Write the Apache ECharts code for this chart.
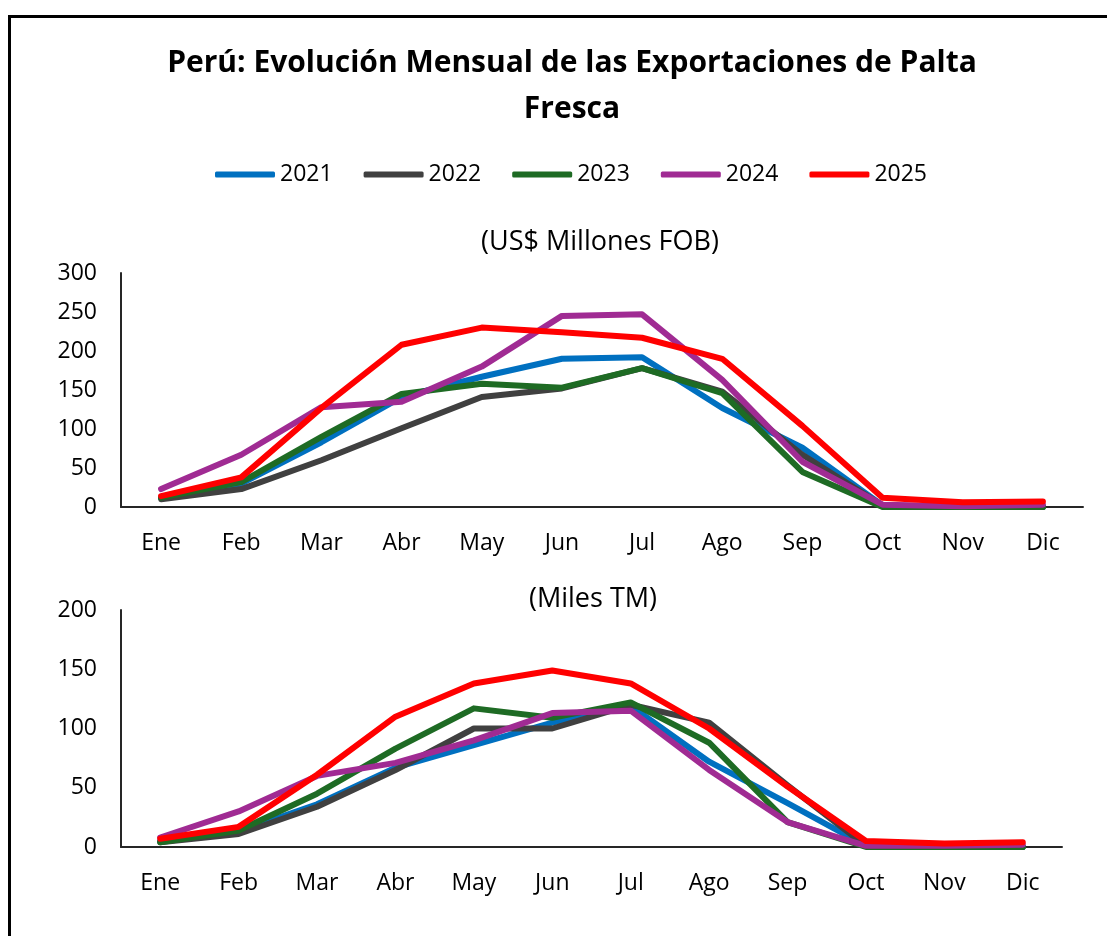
<!DOCTYPE html>
<html>
<head>
<meta charset="utf-8">
<script src="https://cdn.jsdelivr.net/npm/echarts@6/dist/echarts.min.js"></script>
<style>
  html, body { margin: 0; padding: 0; background: #fff; }
  #box { width: 1107px; height: 936px; }
</style>
</head>
<body>
<div id="box"></div>
<script>
var meses = ['Ene', 'Feb', 'Mar', 'Abr', 'May', 'Jun', 'Jul', 'Ago', 'Sep', 'Oct', 'Nov', 'Dic'];
var anios = ['2021', '2022', '2023', '2024', '2025'];
var colores = ['#0070C0', '#404040', '#1E6B24', '#A02B93', '#FF0000'];

// US$ millones FOB
var fob2021 = [12, 30, 83, 141, 167, 190, 192, 127, 76, 2, 0, 0];
var fob2022 = [10, 23, 60, 101, 141, 152, 178, 148, 67, 2, 0, 0];
var fob2023 = [12, 32, 90, 145, 158, 153, 178, 146, 45, 0, 0, 0];
var fob2024 = [23, 67, 128, 135, 180, 245, 247, 163, 58, 3, 1, 3];
var fob2025 = [14, 38, 127, 208, 230, 224, 217, 190, 104, 12, 6, 7];

// miles de TM
var tm2021 = [5, 13, 36, 67, 86, 105, 119, 72, 37, 1, 0, 0];
var tm2022 = [4, 11, 34, 65, 100, 100, 120, 105, 52, 1, 0, 0];
var tm2023 = [4, 14, 45, 83, 117, 109, 122, 88, 21, 0, 0, 0];
var tm2024 = [8, 30, 60, 71, 90, 113, 115, 65, 21, 1, 1, 2];
var tm2025 = [7, 17, 61, 110, 138, 149, 138, 100, 51, 5, 3, 4];

var fob = [fob2021, fob2022, fob2023, fob2024, fob2025];
var tm = [tm2021, tm2022, tm2023, tm2024, tm2025];

var fuente = 'Open Sans';

function ejeX(idx) {
  return {
    type: 'category', gridIndex: idx, data: meses, boundaryGap: true,
    axisLine: { lineStyle: { color: '#262626', width: 2 } },
    axisTick: { show: false },
    axisLabel: { color: '#000', fontSize: 23, fontFamily: fuente, margin: 25 }
  };
}
function ejeY(idx, max) {
  return {
    type: 'value', gridIndex: idx, min: 0, max: max, interval: 50,
    axisLine: { show: true, lineStyle: { color: '#262626', width: 2 } },
    axisTick: { show: false },
    splitLine: { show: false },
    axisLabel: { color: '#000', fontSize: 23, fontFamily: fuente, margin: 24 }
  };
}

var series = [];
anios.forEach(function (a, i) {
  series.push({
    name: a, type: 'line', xAxisIndex: 0, yAxisIndex: 0, data: fob[i],
    symbol: 'none', color: colores[i],
    lineStyle: { width: 6, color: colores[i], cap: 'round', join: 'round' }
  });
  series.push({
    name: a, type: 'line', xAxisIndex: 1, yAxisIndex: 1, data: tm[i],
    symbol: 'none', color: colores[i],
    lineStyle: { width: 6, color: colores[i], cap: 'round', join: 'round' }
  });
});

var dom = document.getElementById('box');
var myChart = echarts.init(dom);
var option = {
  backgroundColor: '#fff',
  animation: false,
  graphic: [{
    type: 'rect', left: 7, top: 14,
    shape: { width: 1200, height: 1000 },
    style: { fill: 'none', stroke: '#000', lineWidth: 3 }
  }],
  title: [
    {
      text: 'Perú: Evolución Mensual de las Exportaciones de Palta\nFresca',
      left: 567, top: 35, textAlign: 'center',
      textStyle: { fontFamily: fuente, fontWeight: 'bold', fontSize: 30, lineHeight: 46, color: '#000' }
    },
    {
      text: '(US$ Millones FOB)', left: 595, top: 220, textAlign: 'center',
      textStyle: { fontFamily: fuente, fontWeight: 'normal', fontSize: 27, lineHeight: 34, color: '#000' }
    },
    {
      text: '(Miles TM)', left: 588, top: 577, textAlign: 'center',
      textStyle: { fontFamily: fuente, fontWeight: 'normal', fontSize: 27, lineHeight: 34, color: '#000' }
    }
  ],
  legend: {
    data: anios, left: 210, top: 158, itemGap: 31,
    itemWidth: 60, itemHeight: 6, icon: 'roundRect',
    textStyle: { fontFamily: fuente, fontSize: 23, color: '#000' }
  },
  grid: [
    { left: 121, right: 24, top: 273, height: 234, containLabel: false },
    { left: 121, right: 45, top: 610, height: 237, containLabel: false }
  ],
  xAxis: [ejeX(0), ejeX(1)],
  yAxis: [ejeY(0, 300), ejeY(1, 200)],
  series: series
};

if (option && typeof option === 'object') {
  myChart.setOption(option);
}
</script>
</body>
</html>
